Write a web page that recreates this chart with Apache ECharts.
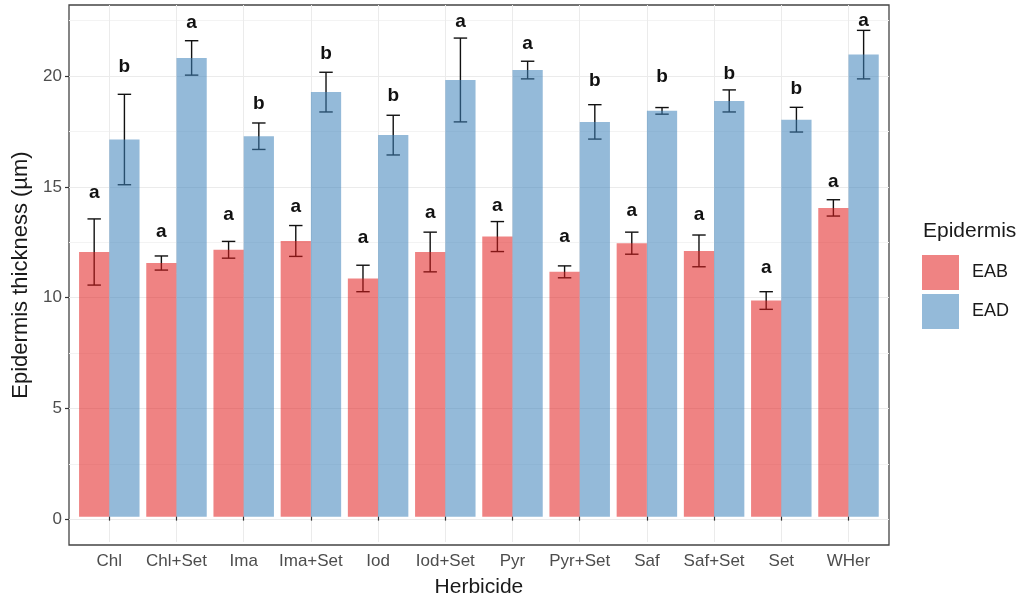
<!DOCTYPE html>
<html>
<head>
<meta charset="utf-8">
<script src="https://cdn.jsdelivr.net/npm/echarts@6/dist/echarts.min.js"></script>
<style>
html,body{margin:0;padding:0;background:#fff;}
#chart{width:1024px;height:603px;}
</style>
</head>
<body>
<div id="chart"></div>
<script>
// ---- data ----
const categories = ['Chl','Chl+Set','Ima','Ima+Set','Iod','Iod+Set','Pyr','Pyr+Set','Saf','Saf+Set','Set','WHer'];
const eabMean = [12.0, 11.5, 12.1, 12.5, 10.8, 12.0, 12.7, 11.1, 12.4, 12.05, 9.8, 14.0];
const eabSe   = [1.5, 0.32, 0.38, 0.7, 0.6, 0.9, 0.68, 0.27, 0.5, 0.72, 0.4, 0.37];
const eadMean = [17.1, 20.8, 17.25, 19.25, 17.3, 19.8, 20.25, 17.9, 18.4, 18.85, 18.0, 20.95];
const eadSe   = [2.05, 0.78, 0.6, 0.9, 0.9, 1.9, 0.4, 0.78, 0.15, 0.5, 0.56, 1.1];
const eabLetters = ['a','a','a','a','a','a','a','a','a','a','a','a'];
const eadLetters = ['b','a','b','b','b','a','a','b','b','b','b','a'];
const eabLetterY = [14.70, 12.91, 13.68, 14.03, 12.64, 13.76, 14.10, 12.67, 13.86, 13.68, 11.27, 15.18];
const eadLetterY = [20.42, 22.41, 18.74, 20.99, 19.07, 22.45, 21.43, 19.77, 19.94, 20.09, 19.40, 22.50];
const majorTicks = [0, 5, 10, 15, 20];
const minorTicks = [2.5, 7.5, 12.5, 17.5, 22.5];
const yMin = -1.15, yMax = 23.2;

const FONT = 'Liberation Sans, Arial, sans-serif';
const colEAB = 'rgba(226,30,30,0.55)';
const colEAD = 'rgba(60,130,186,0.55)';

function errSeries(name, means, ses, letterYs, letters, side) {
  return {
    type: 'custom',
    name: name + '_err',
    xAxisIndex: 1, yAxisIndex: 2,
    z: 1,
    silent: true,
    data: means.map((m, i) => [i, m, ses[i], letterYs[i]]),
    renderItem: function (params, api) {
      const idx = api.value(0), mean = api.value(1), se = api.value(2), ly = api.value(3);
      const band = api.size([1, 0])[0];
      const x = api.coord([idx, mean])[0] + side * band * 0.225;
      const yT = api.coord([idx, mean + se])[1];
      const yB = api.coord([idx, mean - se])[1];
      const yL = api.coord([idx, ly])[1];
      const h = band * 0.1;
      const st = {stroke: '#111', lineWidth: 1.4};
      return {
        type: 'group',
        children: [
          {type: 'line', shape: {x1: x, y1: yT, x2: x, y2: yB}, style: st},
          {type: 'line', shape: {x1: x - h, y1: yT, x2: x + h, y2: yT}, style: st},
          {type: 'line', shape: {x1: x - h, y1: yB, x2: x + h, y2: yB}, style: st},
          {type: 'text', x: x, y: yL, z2: 10,
           style: {text: letters[params.dataIndex], fill: '#111', font: 'bold 19px ' + FONT,
                   align: 'center', verticalAlign: 'middle'}}
        ]
      };
    }
  };
}

const chart = echarts.init(document.getElementById('chart'));
chart.setOption({
  animation: false,
  backgroundColor: '#fff',
  textStyle: {fontFamily: FONT},
  grid: [
    {left: 69, top: 5, width: 820, height: 540, show: true, borderColor: '#444', borderWidth: 1.3, backgroundColor: 'transparent'},
    {left: 109.3, top: 5, width: 739.2, height: 540}
  ],
  xAxis: [
    {gridIndex: 0, type: 'value', min: 0, max: 1, show: false},
    {gridIndex: 1, type: 'category', data: categories, boundaryGap: false,
     axisLine: {show: false},
     axisTick: {show: true, length: 4, lineStyle: {color: '#333', width: 1.2}},
     axisLabel: {interval: 0, fontSize: 17, color: '#4d4d4d', margin: 11, fontFamily: FONT},
     splitLine: {show: true, lineStyle: {color: '#ebebeb', width: 1}},
     name: 'Herbicide', nameLocation: 'middle', nameGap: 35,
     nameTextStyle: {fontSize: 21, color: '#1a1a1a', fontFamily: FONT}}
  ],
  yAxis: [
    {gridIndex: 0, type: 'value', min: yMin, max: yMax,
     axisLine: {show: false},
     axisTick: {show: true, length: 4, customValues: majorTicks, lineStyle: {color: '#333', width: 1.2}},
     axisLabel: {customValues: majorTicks, fontSize: 17, color: '#4d4d4d', margin: 7, fontFamily: FONT},
     splitLine: {show: true, lineStyle: {color: '#ebebeb', width: 1}},
     name: 'Epidermis thickness (µm)', nameLocation: 'middle', nameGap: 35, nameRotate: 90,
     nameTextStyle: {fontSize: 22, color: '#1a1a1a', fontFamily: FONT}},
    {gridIndex: 0, type: 'value', min: yMin, max: yMax,
     axisLine: {show: false}, axisLabel: {show: false},
     axisTick: {show: false, customValues: minorTicks},
     splitLine: {show: true, lineStyle: {color: '#f3f3f3', width: 1}}},
    {gridIndex: 1, type: 'value', min: yMin, max: yMax, show: false, splitLine: {show: false}}
  ],
  legend: {
    orient: 'vertical', left: 922, top: 255, padding: 0,
    itemWidth: 37, itemHeight: 35, itemGap: 4,
    icon: 'rect',
    data: ['EAB', 'EAD'],
    textStyle: {fontSize: 18, color: '#1a1a1a', fontFamily: FONT, padding: [0, 0, 0, 8]}
  },
  graphic: [
    {type: 'text', left: 923, top: 221, style: {text: 'Epidermis', font: '21px ' + FONT, fill: '#1a1a1a'}}
  ],
  series: [
    {type: 'bar', name: 'EAB', data: eabMean, xAxisIndex: 1, yAxisIndex: 2, barWidth: '45%', barGap: '0%',
     clip: false, z: 2, itemStyle: {color: colEAB}},
    {type: 'bar', name: 'EAD', data: eadMean, xAxisIndex: 1, yAxisIndex: 2, barWidth: '45%', barGap: '0%',
     clip: false, z: 2, itemStyle: {color: colEAD}},
    errSeries('EAB', eabMean, eabSe, eabLetterY, eabLetters, -1),
    errSeries('EAD', eadMean, eadSe, eadLetterY, eadLetters, 1)
  ]
});
</script>
</body>
</html>
